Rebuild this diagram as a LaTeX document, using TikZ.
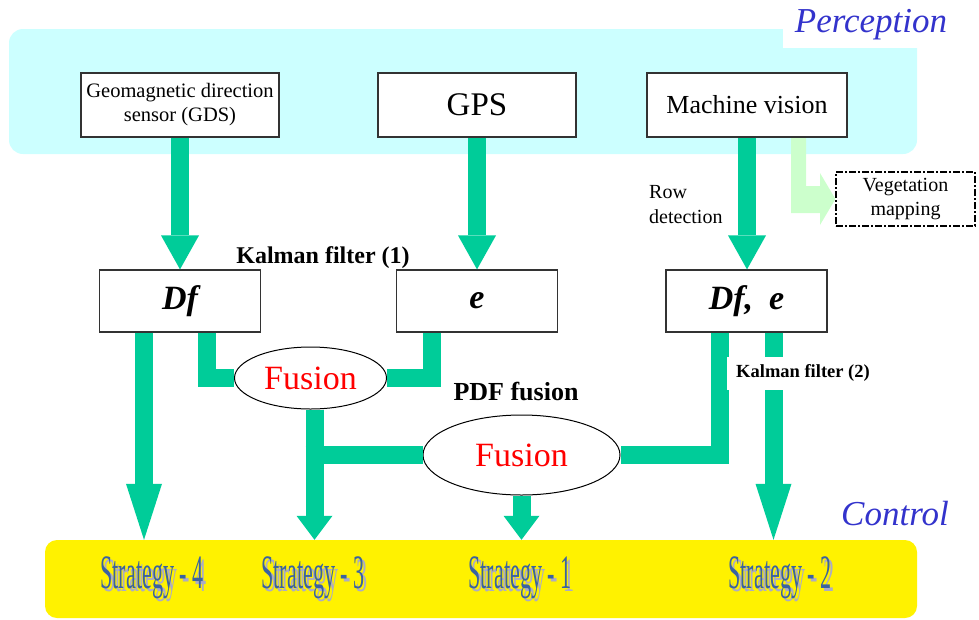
\documentclass[tikz,border=0pt]{standalone}
\usepackage{fontspec}
\setmainfont{Liberation Serif}
\newfontfamily\condfont[FakeStretch=0.46]{Liberation Serif}
\usetikzlibrary{arrows.meta,shapes.geometric,calc}
\definecolor{gr}{RGB}{0,204,153}
\definecolor{cyanbg}{RGB}{204,255,255}
\definecolor{lgr}{RGB}{204,255,204}
\definecolor{ttl}{RGB}{51,51,204}
\definecolor{stratc}{RGB}{58,98,160}
\definecolor{stratsh}{RGB}{172,172,196}
\tikzset{
  box/.style={draw=black!80, line width=1.2pt, fill=white, minimum width=198pt, minimum height=64pt, inner sep=0pt},
  vbox/.style={draw=black!80, line width=1.2pt, fill=white, minimum width=161pt, minimum height=62pt, inner sep=0pt,
    font=\fontsize{34}{34}\selectfont\bfseries\itshape},
  fusion/.style={ellipse, draw=black, line width=1pt, fill=white, inner sep=0pt, text=red,
    font=\fontsize{34}{34}\selectfont},
  gline/.style={draw=gr, line width=18pt, line join=miter},
  garrowA/.style={gline, -{Triangle[width=38pt,length=34pt,line width=0pt]}},
  garrowS/.style={gline, -{Triangle[width=36pt,length=24pt,line width=0pt]}},
  garrowL/.style={gline, -{Triangle[width=36pt,length=56pt,line width=0pt]}},
  ttllab/.style={anchor=base, text=ttl, inner sep=0pt, font=\fontsize{35}{35}\selectfont\itshape},
  boldlab/.style={anchor=base, inner sep=0pt, font=\fontsize{#1}{#1}\selectfont\bfseries},
  stratlab/.style={anchor=base, inner sep=0pt, text=stratc, font=\fontsize{48}{48}\condfont},
  stratshadow/.style={anchor=base, inner sep=0pt, text=stratsh, font=\fontsize{48}{48}\condfont},
  vegbox/.style={draw=black, line width=1.2pt, dash pattern=on 7pt off 2pt on 2pt off 2pt, fill=white,
    minimum width=139pt, minimum height=54pt, inner sep=0pt, align=center, font=\fontsize{20}{24}\selectfont}
}
\begin{document}
\begin{tikzpicture}[x=1pt,y=-1pt]
\useasboundingbox (0,0) rectangle (979,619);
% backgrounds
\node (perc) [fill=cyanbg, rounded corners=14pt, minimum width=908pt, minimum height=125pt, inner sep=0pt] at (463,91.5) {};
\fill[white] (783,-1) rectangle (930,48);
\node (perclab) [ttllab] at (871,32) {Perception};
\node (ctrl) [fill=yellow, rounded corners=12pt, minimum width=872pt, minimum height=78pt, inner sep=0pt] at (481,579) {};
\node (ctrllab) [ttllab] at (895,525) {Control};
% light green arrow to vegetation mapping
\node (veg) [vegbox] at (905.5,199) {Vegetation\\mapping};
\fill[lgr] (791,137) -- (791,213) -- (820,213) -- (820,225) -- (veg.west) -- (820,173) -- (820,186) -- (806,186) -- (806,137) -- cycle;
% sensor boxes
\node (gds) [box, align=center, font=\fontsize{20.5}{24}\selectfont] at (180,105) {Geomagnetic direction\\sensor (GDS)};
\node (gps) [box, font=\fontsize{33}{33}\selectfont] at (477,105) {GPS};
\node (mv) [box, minimum width=200pt, font=\fontsize{26}{26}\selectfont] at (747,105) {Machine vision};
% middle boxes
\node (df) [vbox] at (180,301) {Df\hspace{28pt}};
\node (e) [vbox] at (477,301) {e};
\node (dfe) [vbox] at (746.5,301) {Df,\hspace{16pt}e};
% fusion ellipses
\node (fus1) [fusion, minimum width=152pt, minimum height=62pt] at (310.5,378) {Fusion};
\node (fus2) [fusion, minimum width=197pt, minimum height=80pt] at (521.5,455) {Fusion};
% labels
\node (kf1) [boldlab=24] at (323,263) {Kalman filter (1)};
\node (pdf) [boldlab=26] at (516,400) {PDF fusion};
\node (row) [anchor=west, align=left, inner sep=0pt, font=\fontsize{20}{25}\selectfont] at (649,205) {Row\\detection};
% connectors
\draw[garrowA] (gds.south) -- (df.north);
\draw[garrowA] (gps.south) -- (e.north);
\draw[garrowA] (mv.south) -- (mv.south |- dfe.north);
\coordinate (j4) at ($(df.south)+(-36,0)$);
\draw[garrowL] (j4) -- (j4 |- ctrl.north);
\draw[gline] ($(df.south)+(27,0)$) |- (fus1.west);
\draw[gline] ($(e.south)+(-45,0)$) |- (fus1.east);
\coordinate (j1) at ($(fus1.south)+(4,0)$);
\coordinate (j2) at (j1 |- fus2.west);
\draw[garrowS] (j1) -- (j1 |- ctrl.north);
\draw[gline] ($(j2)+(-9,0)$) -- (fus2.west);
\draw[garrowS] (fus2.south) -- (fus2.south |- ctrl.north);
\draw[gline] ($(dfe.south)+(-27,0)$) |- (fus2.east);
\coordinate (j3) at ($(dfe.south)+(27,0)$);
\draw[garrowL] (j3) -- (j3 |- ctrl.north);
\node (kf2) [fill=white, inner xsep=9pt, inner ysep=0pt, minimum height=33pt, font=\fontsize{18.5}{18.5}\selectfont\bfseries] at (803,373) {Kalman filter (2)};
% strategies
\node (s4sh) [stratshadow] at (155,591) {Strategy - 4};
\node (s4) [stratlab] at (152,588) {Strategy - 4};
\node (s3sh) [stratshadow] at (316,591) {Strategy - 3};
\node (s3) [stratlab] at (313,588) {Strategy - 3};
\node (s1sh) [stratshadow] at (523,591) {Strategy - 1};
\node (s1) [stratlab] at (520,588) {Strategy - 1};
\node (s2sh) [stratshadow] at (783,591) {Strategy - 2};
\node (s2) [stratlab] at (780,588) {Strategy - 2};
\end{tikzpicture}
\end{document}
